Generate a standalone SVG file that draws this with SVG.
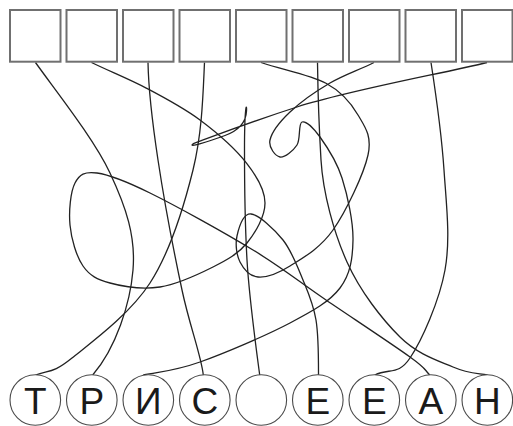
<svg xmlns="http://www.w3.org/2000/svg" width="513" height="426" viewBox="0 0 513 426">
<style>
.box rect{fill:#fff;stroke:#707070;stroke-width:2}
.node circle{fill:#fff;stroke:#4a4a4a;stroke-width:1.1}
.node text{font-family:"Liberation Sans Narrow","Liberation Sans",Arial,sans-serif;font-size:37px;fill:#1a1a1a;text-anchor:middle}
#connectors path{fill:none;stroke:#222;stroke-width:1.3}
</style>
<rect width="513" height="426" fill="#fff"/>
<g id="connectors">
<path d="M35.5,62.5 C55,90 93.8,138.5 110,173 S135.8,236.3 133,270 S116,348 92.7,375"/>
<path d="M204.5,62.5 C203,95 202.1,133.3 193,170 S170.2,251.7 150,283 S91,342.7 72,358 S50,370 35.5,375"/>
<path d="M148,62.5 C148.5,90 152.3,122.2 158,160 S174.4,254.2 182,290 S201,355 203.3,375"/>
<path d="M374,62.5 C359,70 344,74.8 330,83 S300,102.5 290,112 S271.7,132.5 270,140 S275.5,156.2 280,157 S293.3,150.8 297,145 S298.2,123.3 302,122 S313.3,127.7 320,137 S336.5,160.8 342,178 S353.3,221.7 353,240 S350.5,274.2 340,288 S313.3,310.7 290,323 S224.5,353.3 200,362 S165,371 143.3,375"/>
<path d="M487,62.5 C445,73 350,90 297,107 S205,139.5 194,143.3 C185,149 210,141 225,135.5 S246,122 246.5,111 C247,103 244.5,104 244.5,150 S245,225 247,260 S257,355 259.7,375"/>
<path d="M317.5,62.5 C318,100 319,127 321,160 S333.8,232.5 347,262 S382.3,319.5 400,337 S438.3,360.7 453,367 S475,373 487.5,375"/>
<path d="M431,62.5 C436,95 441.7,135.5 444,170 S450.7,238.7 445,270 S421.7,340.5 410,358 S390,368 374.7,375"/>
<path d="M91.5,62.5 C109.9,71.4 128.6,78.8 146.7,88.3 S183.3,107.5 200,120 S235.9,149.5 246.7,163.3 S265,189.7 265,203 S255.7,232.3 247,243 S227.5,259.7 213,267 S177.2,284.3 160,287 S122.8,286.5 110,283 S89.7,275.7 83,266 S71.3,238.8 70,225 S70.5,191.7 75,183 S84.5,171.3 97,173 S124,180.2 150,193 S223.7,232.2 253,250 S299.8,282.2 326,300 S392.7,344.5 410,357 S423,368 429.7,375"/>
<path d="M261,62.5 C282.7,69.8 309.8,74.6 326,83.3 S351,103 358,115 S372.2,135.8 368,155 S346,211.5 333,230 S302.5,258.2 290,266 S266.3,277.7 258,277 S243.5,268.8 240,262 S235.2,244 237,236 S243.3,213.3 251,214 S274.3,229 283,240 S297.5,266.7 303,280 S313.4,304.2 316,320 S318.5,355 318.5,375"/>
</g>
<g id="box-1" class="box"><rect x="10" y="10" width="50.5" height="51.7"/></g>
<g id="box-2" class="box"><rect x="66.5" y="10" width="50.5" height="51.7"/></g>
<g id="box-3" class="box"><rect x="123" y="10" width="50.5" height="51.7"/></g>
<g id="box-4" class="box"><rect x="179.5" y="10" width="50.5" height="51.7"/></g>
<g id="box-5" class="box"><rect x="236" y="10" width="50.5" height="51.7"/></g>
<g id="box-6" class="box"><rect x="292.5" y="10" width="50.5" height="51.7"/></g>
<g id="box-7" class="box"><rect x="349" y="10" width="50.5" height="51.7"/></g>
<g id="box-8" class="box"><rect x="405.5" y="10" width="50.5" height="51.7"/></g>
<g id="box-9" class="box"><rect x="462" y="10" width="50.5" height="51.7"/></g>
<g id="node-1" class="node"><circle cx="35.3" cy="400" r="25.3"/><text x="35.3" y="413.5">Т</text></g>
<g id="node-2" class="node"><circle cx="91.8" cy="400" r="25.3"/><text x="91.8" y="413.5">Р</text></g>
<g id="node-3" class="node"><circle cx="148.3" cy="400" r="25.3"/><text x="148.3" y="413.5">И</text></g>
<g id="node-4" class="node"><circle cx="204.8" cy="400" r="25.3"/><text x="204.8" y="413.5">С</text></g>
<g id="node-5" class="node"><circle cx="261.3" cy="400" r="25.3"/></g>
<g id="node-6" class="node"><circle cx="317.8" cy="400" r="25.3"/><text x="317.8" y="413.5">Е</text></g>
<g id="node-7" class="node"><circle cx="374.3" cy="400" r="25.3"/><text x="374.3" y="413.5">Е</text></g>
<g id="node-8" class="node"><circle cx="430.8" cy="400" r="25.3"/><text x="430.8" y="413.5">А</text></g>
<g id="node-9" class="node"><circle cx="487.3" cy="400" r="25.3"/><text x="487.3" y="413.5">Н</text></g>
</svg>
